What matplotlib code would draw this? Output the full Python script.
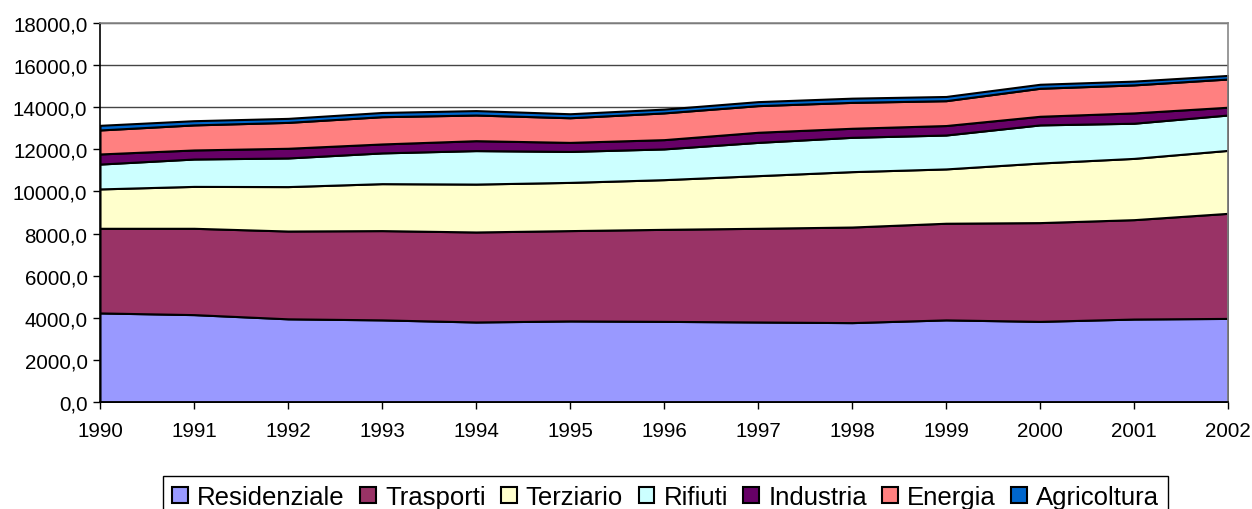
import matplotlib
matplotlib.use('Agg')
import matplotlib.pyplot as plt
from matplotlib.patches import Patch
from matplotlib.ticker import FuncFormatter, MultipleLocator

plt.rcParams['font.family'] = ['Liberation Sans', 'DejaVu Sans']

# data
years = [1990, 1991, 1992, 1993, 1994, 1995, 1996, 1997, 1998, 1999, 2000, 2001, 2002]
residenziale = [4230, 4150, 3950, 3900, 3800, 3850, 3830, 3800, 3770, 3900, 3830, 3940, 3970]
trasporti = [4020, 4100, 4170, 4240, 4275, 4290, 4370, 4450, 4540, 4590, 4690, 4720, 4990]
terziario = [1870, 1990, 2110, 2230, 2275, 2290, 2360, 2500, 2630, 2580, 2830, 2910, 2990]
rifiuti = [1180, 1300, 1360, 1460, 1590, 1470, 1460, 1580, 1630, 1610, 1810, 1670, 1680]
industria = [480, 430, 460, 425, 470, 430, 440, 480, 430, 450, 410, 490, 370]
energia = [1140, 1190, 1230, 1295, 1220, 1170, 1270, 1265, 1230, 1180, 1330, 1330, 1340]
agricoltura = [220, 200, 190, 200, 210, 190, 180, 190, 200, 200, 190, 180, 170]

labels = ['Residenziale', 'Trasporti', 'Terziario', 'Rifiuti', 'Industria', 'Energia', 'Agricoltura']
colors = ['#9999FF', '#993366', '#FFFFCC', '#CCFFFF', '#660066', '#FF8080', '#0066CC']
series = [residenziale, trasporti, terziario, rifiuti, industria, energia, agricoltura]

fig = plt.figure(figsize=(12.52, 5.10), dpi=100)
ax = fig.add_axes([100 / 1252, 1 - 403 / 510, 1128 / 1252, 379 / 510])

ax.stackplot(years, *series, colors=colors, edgecolor='black', linewidth=1.5, zorder=2)

ax.set_xlim(1990, 2002)
ax.set_ylim(0, 18000)
ax.yaxis.set_major_locator(MultipleLocator(2000))
ax.yaxis.set_major_formatter(FuncFormatter(lambda v, p: f'{v:.1f}'.replace('.', ',')))
ax.set_xticks(years)
ax.set_xticklabels([str(y) for y in years])
ax.grid(axis='y', color='#444444', linewidth=1, zorder=0)
ax.set_axisbelow(True)

ax.tick_params(axis='both', direction='out', length=5, width=1, color='black',
               labelsize=14.8, pad=4)
ax.tick_params(axis='x', pad=9)
for s in ['left', 'bottom']:
    ax.spines[s].set_color('black')
    ax.spines[s].set_linewidth(1.2)
for s in ['top', 'right']:
    ax.spines[s].set_color('#888888')
    ax.spines[s].set_linewidth(1.2)

handles = [Patch(facecolor=c, edgecolor='black', linewidth=1.5) for c in colors]
leg = fig.legend(handles, labels, loc='upper left', bbox_to_anchor=(163 / 1252, 1 - 477 / 510),
                 ncol=7, fontsize=18.5, frameon=True, fancybox=False, framealpha=1,
                 edgecolor='black', handlelength=0.62, handleheight=0.62,
                 handletextpad=0.35, columnspacing=0.6, borderpad=0.35, borderaxespad=0)
leg.get_frame().set_linewidth(1.0)

fig.savefig('out.png', dpi=100)
